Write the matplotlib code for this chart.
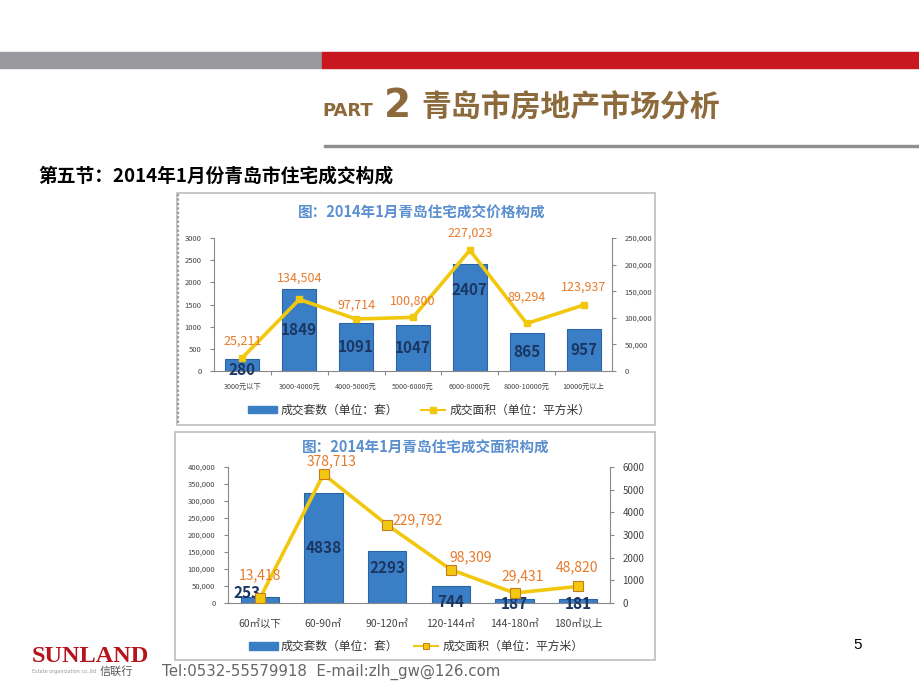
import matplotlib
matplotlib.use("Agg")
import matplotlib.pyplot as plt
import matplotlib.patches as mpatches

plt.rcParams["font.family"] = ["Noto Sans CJK SC", "DejaVu Sans"]

W, H = 920, 690

# ── chart 1: price structure ────────────────────────────────────────────────
price_cats = ["3000元以下", "3000-4000元", "4000-5000元", "5000-6000元",
              "6000-8000元", "8000-10000元", "10000元以上"]
price_units = [280, 1849, 1091, 1047, 2407, 865, 957]
price_area = [25211, 134504, 97714, 100800, 227023, 89294, 123937]
price_left_ticks = [0, 500, 1000, 1500, 2000, 2500, 3000]
price_right_ticks = [0, 50000, 100000, 150000, 200000, 250000]

# ── chart 2: size structure ─────────────────────────────────────────────────
size_cats = ["60㎡以下", "60-90㎡", "90-120㎡", "120-144㎡", "144-180㎡", "180㎡以上"]
size_units = [253, 4838, 2293, 744, 187, 181]
size_area = [13418, 378713, 229792, 98309, 29431, 48820]
size_left_ticks = [0, 50000, 100000, 150000, 200000, 250000, 300000, 350000, 400000]
size_right_ticks = [0, 1000, 2000, 3000, 4000, 5000, 6000]

BAR = "#3a7fc6"
BAR_EDGE = "#2a64a4"
LINE = "#f2c80f"
LBL = "#e87a2a"
NAVY = "#1b3660"
TITLE_BLUE = "#5b8fcf"
BROWN = "#8c6a3c"
AXC = "#888888"


def fx(x):
    return x / W


def fy(y):
    return 1 - y / H


def add_ax(fig, left, top, right, bottom):
    return fig.add_axes([fx(left), fy(bottom), fx(right) - fx(left), fy(top) - fy(bottom)])


def frame_rect(fig, x0, y0, x1, y1, **kw):
    fig.patches.append(mpatches.Rectangle((fx(x0), fy(y1)), fx(x1) - fx(x0), fy(y0) - fy(y1),
                                          transform=fig.transFigure, **kw))


fig = plt.figure(figsize=(W / 100, H / 100), dpi=100)
fig.patch.set_facecolor("white")

# header bars
frame_rect(fig, 0, 52, 322, 68, color="#9a9a9e", zorder=1)
frame_rect(fig, 322, 52, 920, 68, color="#c8171e", zorder=1)
frame_rect(fig, 324, 145, 920, 147, color="#8f8f8f", zorder=1)

fig.text(fx(322), fy(111), "PART", fontsize=13, fontweight="bold", color=BROWN,
         ha="left", va="center", family="DejaVu Sans")
fig.text(fx(384), fy(106), "2", fontsize=28, fontweight="bold", color=BROWN,
         ha="left", va="center", family="DejaVu Sans")
fig.text(fx(421), fy(108), "青岛市房地产市场分析", fontsize=21.5, fontweight="bold",
         color=BROWN, ha="left", va="center")
fig.text(fx(38), fy(176), "第五节：2014年1月份青岛市住宅成交构成", fontsize=13.5,
         fontweight="bold", color="black", ha="left", va="center")

# chart frames
frame_rect(fig, 177, 193, 655, 425, fill=False, edgecolor="#bdbdbd", lw=1.2, zorder=1)
fig.lines.append(plt.Line2D([fx(178), fx(178)], [fy(194), fy(424)], transform=fig.transFigure,
                            color="#9a9a9a", lw=1.6, ls=(0, (1, 1))))
frame_rect(fig, 175, 432, 655, 660, fill=False, edgecolor="#bdbdbd", lw=1.2, zorder=1)

# ── chart 1 ────────────────────────────────────────────────────────────────
ax1 = add_ax(fig, 214, 238, 612, 371)
ax1b = ax1.twinx()
x1 = list(range(len(price_cats)))
ax1.bar(x1, price_units, width=0.6, color=BAR, edgecolor=BAR_EDGE, lw=0.8, zorder=2)
ax1.set_ylim(0, 3000)
ax1.set_xlim(-0.5, len(price_cats) - 0.5)
ax1.set_yticks(price_left_ticks)
ax1.set_yticklabels([str(v) for v in price_left_ticks], fontsize=5.5, color="#444444")
ax1.set_xticks([i + 0.5 for i in x1[:-1]])
ax1.set_xticklabels([])
ax1.tick_params(axis="x", length=3, color=AXC)
ax1.tick_params(axis="y", length=3, color=AXC, pad=6)
for i, c in enumerate(price_cats):
    ax1.text(i, -0.12, c, transform=ax1.get_xaxis_transform(), ha="center", va="center",
             fontsize=5.2, color="#444444")
top1 = max(price_units)
for i, v in enumerate(price_units):
    if v == top1:
        yy = v * 0.76
    elif v < 500:
        yy = 20
    else:
        yy = v * 0.5
    ax1.text(i, yy, str(v), ha="center", va="center", fontsize=11,
             fontweight="bold", color=NAVY, zorder=5)
for s in ("top", "right"):
    ax1.spines[s].set_visible(False)
ax1.spines["left"].set_color(AXC)
ax1.spines["bottom"].set_color(AXC)

ax1b.plot(x1, price_area, color=LINE, lw=2.6, marker="s", ms=5, mfc=LINE, mec=LINE, zorder=3)
ax1b.set_ylim(0, 250000)
ax1b.set_yticks(price_right_ticks)
ax1b.set_yticklabels([f"{v:,}" for v in price_right_ticks], fontsize=5.5, color="#444444")
ax1b.tick_params(axis="y", length=3, color=AXC, pad=6)
for s in ("top", "left", "bottom"):
    ax1b.spines[s].set_visible(False)
ax1b.spines["right"].set_color(AXC)
offsets1 = [12, 15, 10, 12, 12, 19, 13]
for i, v in enumerate(price_area):
    ax1b.annotate(f"{v:,}", (i, v), xytext=(0, offsets1[i]), textcoords="offset points",
                  ha="center", va="center", fontsize=9, color=LBL, zorder=6)

fig.text(fx(422), fy(213), "图：2014年1月青岛住宅成交价格构成", fontsize=10.5,
         fontweight="bold", color=TITLE_BLUE, ha="center", va="center")

# legend 1
frame_rect(fig, 248, 406, 277, 413, color=BAR)
fig.text(fx(281), fy(410), "成交套数（单位：套）", fontsize=8.5, color="#333333",
         ha="left", va="center")
fig.lines.append(plt.Line2D([fx(421), fx(445)], [fy(410), fy(410)], transform=fig.transFigure,
                            color=LINE, lw=1.5))
fig.lines.append(plt.Line2D([fx(433)], [fy(410)], transform=fig.transFigure,
                            color=LINE, marker="s", ms=4, lw=0))
fig.text(fx(450), fy(410), "成交面积（单位：平方米）", fontsize=8.5, color="#333333",
         ha="left", va="center")

# ── chart 2 ────────────────────────────────────────────────────────────────
ax2 = add_ax(fig, 228, 467, 610, 603)
ax2b = ax2.twinx()
x2 = list(range(len(size_cats)))
ax2.bar(x2, size_units, width=0.6, color=BAR, edgecolor=BAR_EDGE, lw=0.8, zorder=2)
ax2.set_ylim(0, 6000)
ax2.set_xlim(-0.5, len(size_cats) - 0.5)
ax2.set_yticks(size_right_ticks)
ax2.set_yticklabels([str(v) for v in size_right_ticks], fontsize=7, color="#444444")
ax2.set_xticks([])
for i, c in enumerate(size_cats):
    ax2.text(i, -0.155, c, transform=ax2.get_xaxis_transform(), ha="center", va="center",
             fontsize=7.5, color="#444444")
for i, v in enumerate(size_units):
    if v > 3000:
        xx, yy = i, v * 0.5
    elif v > 1000:
        xx, yy = i, v * 0.67
    elif i == 0:
        xx, yy = i - 0.2, 440
    else:
        xx, yy = i, 60 if v > 500 else -40
    ax2.text(xx, yy, str(v), ha="center", va="center", fontsize=11,
             fontweight="bold", color=NAVY, zorder=5)
for s in ("top", "left"):
    ax2.spines[s].set_visible(False)
ax2.spines["right"].set_color(AXC)
ax2.spines["bottom"].set_color(AXC)

ax2b.plot(x2, size_area, color=LINE, lw=2.6, marker="s", ms=7, mfc=LINE, mec="#c77a1e",
          mew=0.8, zorder=3)
ax2b.set_ylim(0, 400000)
ax2b.set_yticks(size_left_ticks)
ax2b.set_yticklabels([f"{v:,}" for v in size_left_ticks], fontsize=5.5, color="#444444")
for s in ("top", "right", "bottom"):
    ax2b.spines[s].set_visible(False)
ax2b.spines["left"].set_visible(True)
ax2b.spines["left"].set_color(AXC)

# swap sides: counts on the right, areas on the left
ax2.yaxis.tick_right()
ax2b.yaxis.tick_left()
ax2.tick_params(axis="y", length=3, color=AXC, pad=6)
ax2b.tick_params(axis="y", length=3, color=AXC, pad=6)

offsets2 = [(0, 17), (6, 9), (22, 3), (14, 9), (6, 12), (-1, 14)]
for i, v in enumerate(size_area):
    ax2b.annotate(f"{v:,}", (i, v), xytext=offsets2[i], textcoords="offset points",
                  ha="center", va="center", fontsize=10, color=LBL, zorder=6)

fig.text(fx(426), fy(448), "图：2014年1月青岛住宅成交面积构成", fontsize=10.5,
         fontweight="bold", color=TITLE_BLUE, ha="center", va="center")

# legend 2
frame_rect(fig, 249, 642, 278, 650, color=BAR)
fig.text(fx(281), fy(646), "成交套数（单位：套）", fontsize=8.5, color="#333333",
         ha="left", va="center")
fig.lines.append(plt.Line2D([fx(414), fx(438)], [fy(646), fy(646)], transform=fig.transFigure,
                            color=LINE, lw=1.5))
fig.lines.append(plt.Line2D([fx(426)], [fy(646)], transform=fig.transFigure,
                            color=LINE, marker="s", ms=5, mec="#c77a1e", mew=0.7, lw=0))
fig.text(fx(443), fy(646), "成交面积（单位：平方米）", fontsize=8.5, color="#333333",
         ha="left", va="center")

# footer
fig.text(fx(32), fy(657), "SUNLAND", fontsize=17.5, fontweight="bold", color="#b5141c",
         ha="left", va="center", family="Liberation Serif")
fig.text(fx(32), fy(672), "Estate organization co.,ltd", fontsize=3.5, color="#999999",
         ha="left", va="center", family="DejaVu Sans")
fig.text(fx(100), fy(672), "信联行", fontsize=8, color="#555555", ha="left", va="center")
fig.text(fx(162), fy(672), "Tel:0532-55579918  E-mail:zlh_gw@126.com", fontsize=10.8,
         color="#666666", ha="left", va="center", family="DejaVu Sans")
fig.text(fx(858), fy(645), "5", fontsize=11, color="black", ha="center", va="center",
         family="Liberation Sans")

fig.savefig("out.png", dpi=100, facecolor="white")
